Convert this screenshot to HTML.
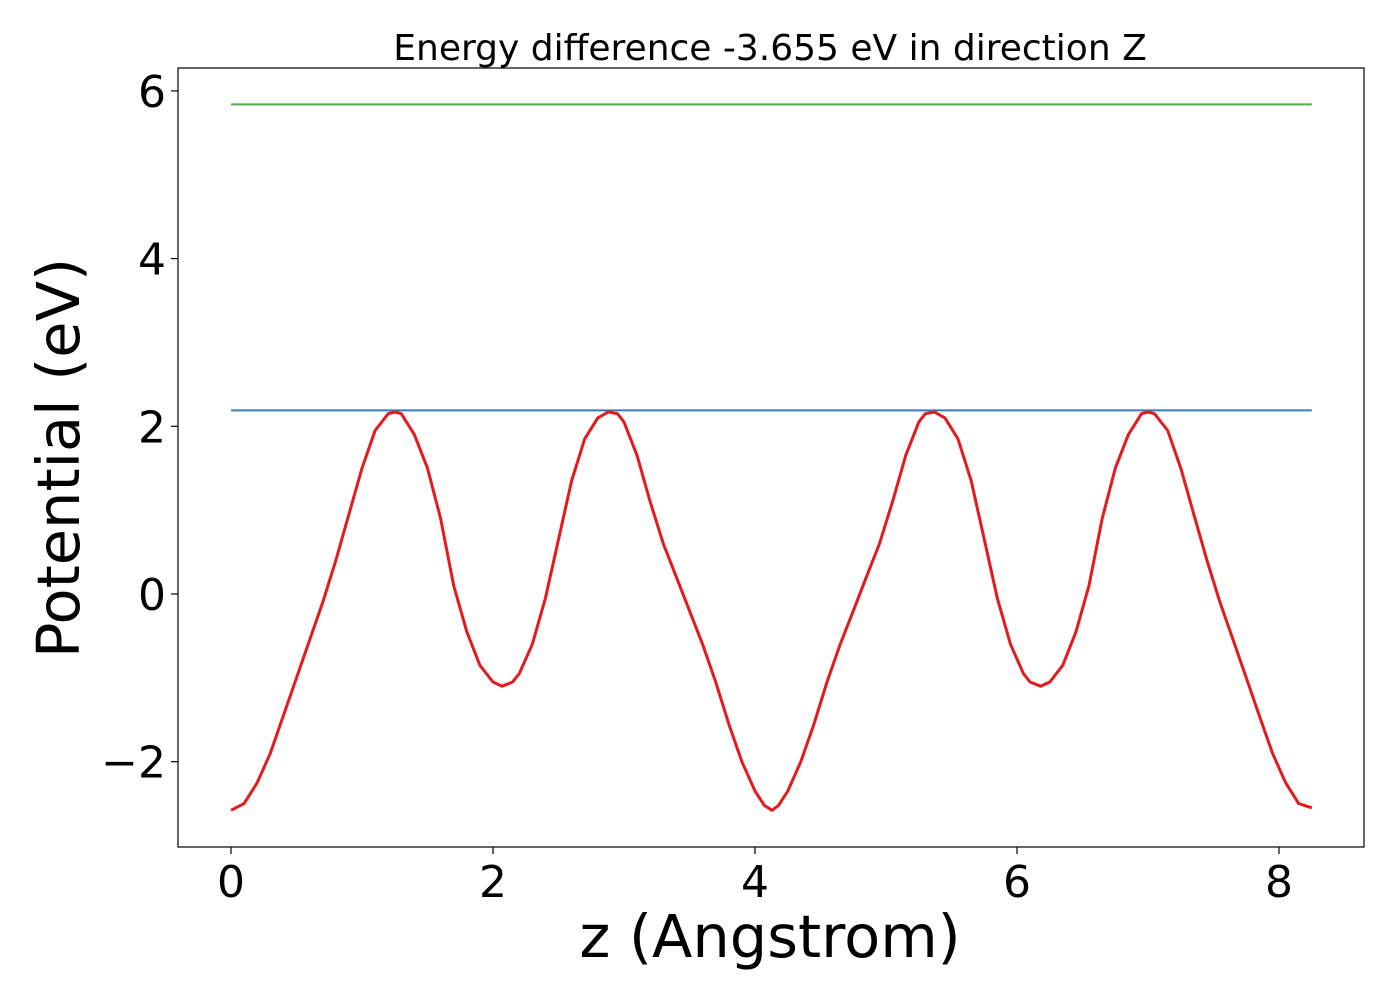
<!DOCTYPE html>
<html><head><meta charset="utf-8"><style>
body{margin:0;background:#fff}
svg text{font-family:"DejaVu Sans","Liberation Sans",sans-serif}
</style></head><body>
<svg id="chart" width="1400" height="1000" xmlns="http://www.w3.org/2000/svg">
<rect width="1400" height="1000" fill="#fff"/>
<g id="plot"></g>
</svg>
<script>
const xsHalf = [0,0.1,0.2,0.3,0.4,0.5,0.6,0.7,0.8,0.9,1.0,1.1,1.2,1.25,1.3,1.4,1.5,1.6,1.7,1.8,1.9,2.0,2.07,2.15,2.2,2.3,2.4,2.5,2.6,2.7,2.8,2.88,2.95,3.0,3.1,3.2,3.3,3.4,3.5,3.6,3.7,3.8,3.9,4.0,4.07,4.13];
const ysHalf = [-2.58,-2.5,-2.25,-1.9,-1.45,-1.0,-0.55,-0.1,0.4,0.95,1.5,1.95,2.15,2.17,2.15,1.9,1.5,0.9,0.1,-0.45,-0.85,-1.05,-1.1,-1.05,-0.95,-0.6,-0.05,0.65,1.35,1.85,2.1,2.17,2.15,2.05,1.65,1.1,0.6,0.2,-0.2,-0.6,-1.05,-1.55,-2.0,-2.35,-2.52,-2.58];
const xsSecond = [4.18,4.25,4.35,4.45,4.55,4.65,4.75,4.85,4.95,5.05,5.15,5.25,5.3,5.37,5.45,5.55,5.65,5.75,5.85,5.95,6.05,6.1,6.18,6.25,6.35,6.45,6.55,6.65,6.75,6.85,6.95,7.0,7.05,7.15,7.25,7.35,7.45,7.55,7.65,7.75,7.85,7.95,8.05,8.15,8.25];
const ysSecond = [-2.52,-2.35,-2.0,-1.55,-1.05,-0.6,-0.2,0.2,0.6,1.1,1.65,2.05,2.15,2.17,2.1,1.85,1.35,0.65,-0.05,-0.6,-0.95,-1.05,-1.1,-1.05,-0.85,-0.45,0.1,0.9,1.5,1.9,2.15,2.17,2.15,1.95,1.5,0.95,0.4,-0.1,-0.55,-1.0,-1.45,-1.9,-2.25,-2.5,-2.55];
const blueLevel = 2.19;
const greenLevel = 5.84;
const xTicks = [0,2,4,6,8];
const yTicks = [-2,0,2,4,6];
const xMax = 8.25;

const L=178,R=1364,T=68,B=847;
const sx = v => 231 + v*131;
const sy = v => 594 - v*83.85;
const g = document.getElementById('plot');
const NS='http://www.w3.org/2000/svg';
function mk(tag, attrs){const e=document.createElementNS(NS,tag);for(const k in attrs)e.setAttribute(k,attrs[k]);g.appendChild(e);return e;}

const gl = mk('line',{x1:sx(0),x2:sx(xMax),y1:sy(greenLevel),y2:sy(greenLevel),stroke:'#4daf4a','stroke-width':2});


const bl = mk('line',{x1:sx(0),x2:sx(xMax),y1:sy(blueLevel),y2:sy(blueLevel),stroke:'#377eb8','stroke-width':2});



const xs = xsHalf.concat(xsSecond), ys = ysHalf.concat(ysSecond);
const d = xs.map((x,i)=>(i?'L':'M')+sx(x).toFixed(1)+' '+sy(ys[i]).toFixed(1)).join(' ');
const rl = mk('path',{d:d,fill:'none',stroke:'#e41a1c','stroke-width':3,'stroke-linejoin':'round'});



const fr = mk('rect',{x:L,y:T,width:R-L,height:B-T,fill:'none',stroke:'#000','stroke-width':1.2});



xTicks.forEach(v=>{
  const t=mk('line',{x1:sx(v),x2:sx(v),y1:B,y2:B+7,stroke:'#000','stroke-width':1.2});
  
  
  const l=mk('text',{x:sx(v),y:B+50,'font-size':44,'text-anchor':'middle'});
  l.textContent=v;
  
  
});
yTicks.forEach(v=>{
  const t=mk('line',{x1:L-7,x2:L,y1:sy(v),y2:sy(v),stroke:'#000','stroke-width':1.2});
  
  
  const l=mk('text',{x:L-12,y:sy(v)+16,'font-size':44,'text-anchor':'end'});
  l.textContent=v<0?'\u2212'+(-v):v;
  
  
});
const xt=mk('text',{x:770,y:957,'font-size':59,'text-anchor':'middle'});
xt.textContent='z (Angstrom)';


const yt=mk('text',{x:79,y:458,'font-size':59,'text-anchor':'middle',transform:'rotate(-90 79 458)'});
yt.textContent='Potential (eV)';


const tt=mk('text',{x:770,y:60,'font-size':36,'text-anchor':'middle'});
tt.textContent='Energy difference -3.655 eV in direction Z';


</script>
</body></html>
